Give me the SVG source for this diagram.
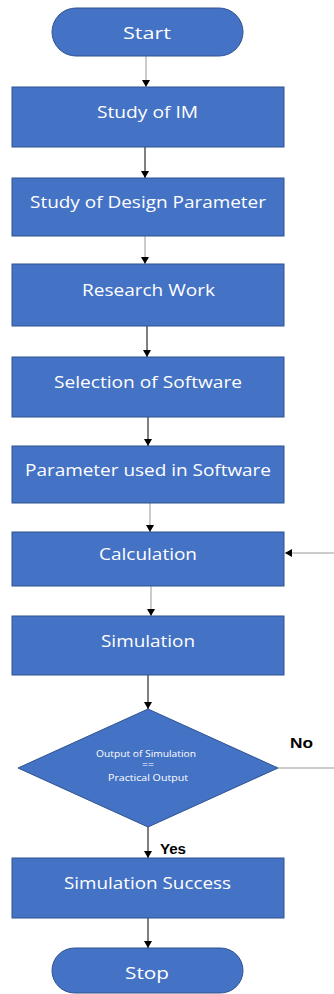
<svg xmlns="http://www.w3.org/2000/svg" width="334" height="994" viewBox="0 0 334 994">
<defs>
<style>
.box{fill:#4472C4;stroke:#2F528F;stroke-width:1}
.t{fill:#ffffff;font-family:"Open Sans","Noto Sans",sans-serif;font-size:16px;text-anchor:middle;dominant-baseline:central}
.ts{fill:#ffffff;font-family:"Open Sans","Noto Sans",sans-serif;font-size:8.5px;text-anchor:middle;dominant-baseline:central}
.lbl{fill:#000000;font-family:"Liberation Sans",Arial,sans-serif;font-size:14px;font-weight:bold;dominant-baseline:central}
.c{fill:none;stroke:#000;stroke-width:1}
.cg{fill:none;stroke:#999;stroke-width:1}
</style>
<marker id="ah" markerUnits="userSpaceOnUse" markerWidth="8" markerHeight="8" refX="7" refY="4" orient="auto">
<path d="M0,0 L7,4 L0,8 Z" fill="#000"/>
</marker>
</defs>
<rect width="334" height="994" fill="#ffffff"/>
<g id="connectors">
<line class="cg" x1="146" y1="56" x2="146" y2="87" marker-end="url(#ah)"/>
<line class="c" x1="145" y1="147" x2="145" y2="178" marker-end="url(#ah)"/>
<line class="cg" x1="145" y1="236" x2="145" y2="264" marker-end="url(#ah)"/>
<line class="c" x1="147" y1="326" x2="147" y2="357" marker-end="url(#ah)"/>
<line class="c" x1="148" y1="417" x2="148" y2="446" marker-end="url(#ah)"/>
<line class="cg" x1="150" y1="503" x2="150" y2="532" marker-end="url(#ah)"/>
<line class="cg" x1="151" y1="586" x2="151" y2="616" marker-end="url(#ah)"/>
<line class="c" x1="148" y1="675" x2="148" y2="709" marker-end="url(#ah)"/>
<line class="c" x1="148" y1="827" x2="148" y2="858" marker-end="url(#ah)"/>
<line class="c" x1="148" y1="918" x2="148" y2="948" marker-end="url(#ah)"/>
<line class="cg" x1="278" y1="768" x2="334" y2="768"/>
<line class="cg" x1="334" y1="553" x2="285" y2="553" marker-end="url(#ah)"/>
<text class="lbl" x="290" y="743" textLength="23" lengthAdjust="spacingAndGlyphs">No</text>
<text class="lbl" x="160" y="849" textLength="26" lengthAdjust="spacingAndGlyphs">Yes</text>
</g>
<g id="start"><rect class="box" x="52" y="8" width="191" height="48" rx="24"/><text class="t" x="147" y="33" textLength="48" lengthAdjust="spacingAndGlyphs">Start</text></g>
<g id="study-im"><rect class="box" x="12" y="87" width="272" height="60"/><text class="t" x="147.5" y="112" textLength="101" lengthAdjust="spacingAndGlyphs">Study of IM</text></g>
<g id="study-design"><rect class="box" x="12" y="178" width="272" height="58"/><text class="t" x="148" y="202" textLength="236" lengthAdjust="spacingAndGlyphs">Study of Design Parameter</text></g>
<g id="research"><rect class="box" x="12" y="264" width="272" height="62"/><text class="t" x="148.5" y="290" textLength="133" lengthAdjust="spacingAndGlyphs">Research Work</text></g>
<g id="selection"><rect class="box" x="12" y="357" width="272" height="60"/><text class="t" x="148" y="382" textLength="188" lengthAdjust="spacingAndGlyphs">Selection of Software</text></g>
<g id="parameter"><rect class="box" x="12" y="446" width="272" height="57"/><text class="t" x="148" y="470" textLength="246" lengthAdjust="spacingAndGlyphs">Parameter used in Software</text></g>
<g id="calculation"><rect class="box" x="12" y="532" width="272" height="54"/><text class="t" x="148" y="554" textLength="98" lengthAdjust="spacingAndGlyphs">Calculation</text></g>
<g id="simulation"><rect class="box" x="12" y="616" width="272" height="59"/><text class="t" x="148" y="641" textLength="94" lengthAdjust="spacingAndGlyphs">Simulation</text></g>
<g id="decision"><polygon class="box" points="148,709 278,768 148,827 18,768"/>
<text class="ts" x="146" y="753" textLength="100" lengthAdjust="spacingAndGlyphs">Output of Simulation</text>
<text class="ts" x="148" y="764" textLength="12" lengthAdjust="spacingAndGlyphs">==</text>
<text class="ts" x="148" y="777" textLength="80" lengthAdjust="spacingAndGlyphs">Practical Output</text></g>
<g id="success"><rect class="box" x="12" y="858" width="272" height="60"/><text class="t" x="147.5" y="883" textLength="167" lengthAdjust="spacingAndGlyphs">Simulation Success</text></g>
<g id="stop"><rect class="box" x="52" y="948" width="191" height="45" rx="22.5"/><text class="t" x="147" y="973" textLength="44" lengthAdjust="spacingAndGlyphs">Stop</text></g>
</svg>
